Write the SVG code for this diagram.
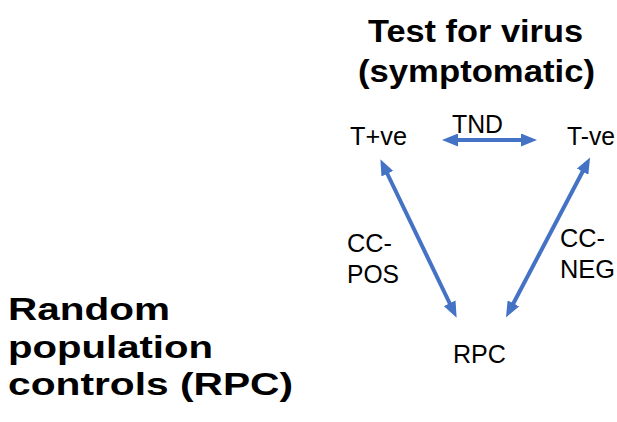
<svg xmlns="http://www.w3.org/2000/svg" width="617" height="422" viewBox="0 0 617 422">
<style>
.h{font-family:"Liberation Sans",Arial,sans-serif;font-weight:bold;font-size:31px;fill:#000}
.t{font-family:"Liberation Sans",Arial,sans-serif;font-size:25px;fill:#000}
.c{stroke:#4472C4;stroke-width:4;fill:none;marker-start:url(#ah);marker-end:url(#ah)}
</style>
<defs>
<marker id="ah" viewBox="0 0 16 13" refX="3" refY="6.5" markerWidth="16" markerHeight="13" markerUnits="userSpaceOnUse" orient="auto-start-reverse">
<path d="M0,0 L16,6.5 L0,13 z" fill="#4472C4"/>
</marker>
</defs>
<rect width="617" height="422" fill="#fff"/>
<g id="title">
<text class="h" x="368" y="42" textLength="215" lengthAdjust="spacingAndGlyphs">Test for virus</text>
<text class="h" x="358" y="82" textLength="237" lengthAdjust="spacingAndGlyphs">(symptomatic)</text>
</g>
<g id="rpc-heading">
<text class="h" x="8" y="320" textLength="162" lengthAdjust="spacingAndGlyphs">Random</text>
<text class="h" x="8" y="358" textLength="205" lengthAdjust="spacingAndGlyphs">population</text>
<text class="h" x="8" y="395" textLength="285" lengthAdjust="spacingAndGlyphs">controls (RPC)</text>
</g>
<g id="tpos"><text class="t" x="350" y="145" textLength="57" lengthAdjust="spacingAndGlyphs">T+ve</text></g>
<g id="tneg"><text class="t" x="567" y="145" textLength="48" lengthAdjust="spacingAndGlyphs">T-ve</text></g>
<g id="rpc"><text class="t" x="453" y="363" textLength="53" lengthAdjust="spacingAndGlyphs">RPC</text></g>
<g id="connectors">
<path class="c" d="M455,140 L524,140"/>
<path class="c" d="M386,171 L451,306"/>
<path class="c" d="M584,169 L512,306"/>
</g>
<g id="labels">
<text class="t" x="452" y="133" textLength="51" lengthAdjust="spacingAndGlyphs">TND</text>
<text class="t" x="347" y="252" textLength="45" lengthAdjust="spacingAndGlyphs">CC-</text>
<text class="t" x="347" y="283" textLength="52" lengthAdjust="spacingAndGlyphs">POS</text>
<text class="t" x="560" y="247" textLength="45" lengthAdjust="spacingAndGlyphs">CC-</text>
<text class="t" x="560" y="278" textLength="55" lengthAdjust="spacingAndGlyphs">NEG</text>
</g>
</svg>
